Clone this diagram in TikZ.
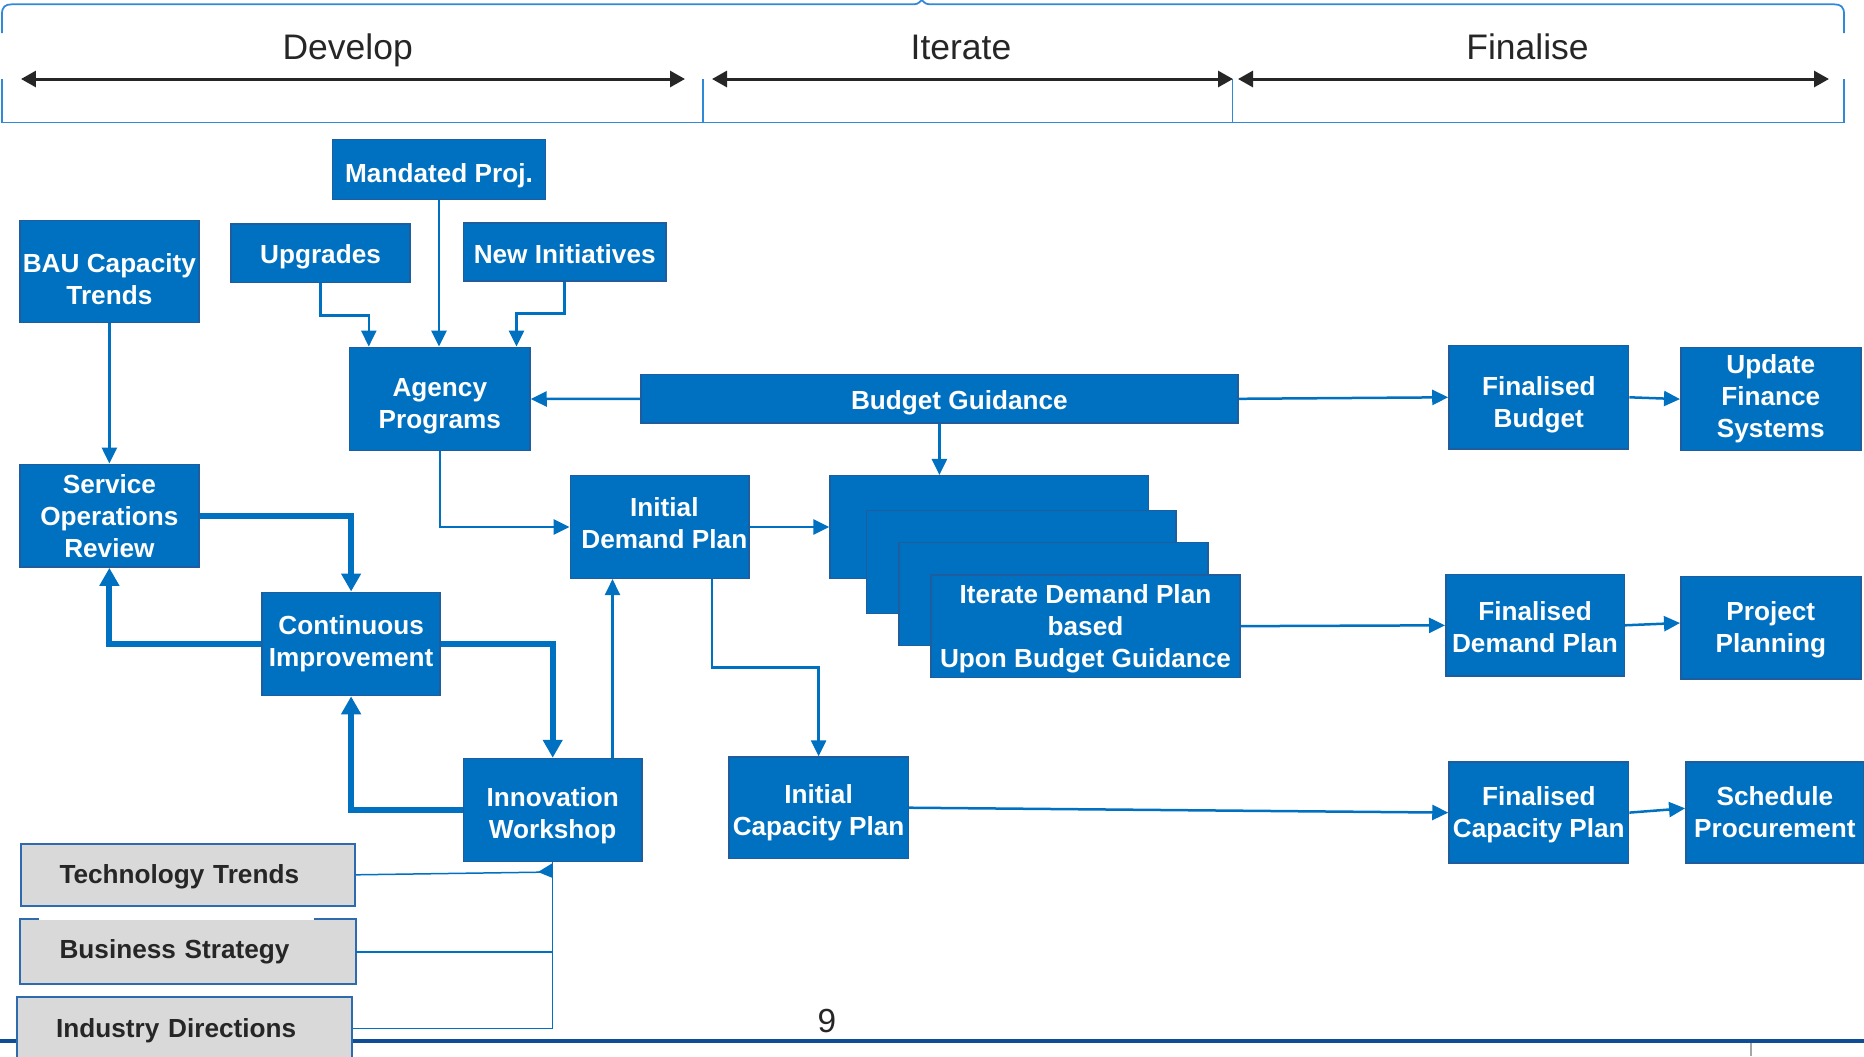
\documentclass[tikz,border=0pt]{standalone}
\usepackage{fontspec}
\setmainfont{Liberation Sans}
\usetikzlibrary{arrows.meta,calc}

\definecolor{boxblue}{HTML}{0070C0}
\definecolor{boxedge}{HTML}{1F5E9E}
\definecolor{greyfill}{HTML}{D9D9D9}
\definecolor{greyedge}{HTML}{2E6BAE}
\definecolor{inkdark}{HTML}{262626}
\definecolor{frameblue}{HTML}{3089D8}
\definecolor{rulenavy}{HTML}{0E4C96}

\newcommand\boxfont{\bfseries\fontsize{14.9}{18.2}\selectfont}
\newcommand\phasefont{\fontsize{20.2}{24}\selectfont}
\newcommand\pagefont{\fontsize{19}{23}\selectfont}
% invisible struts that nudge a box label down (dropby) or up (liftby), in pt
\newcommand\dropby[1]{\rule{0pt}{\dimexpr 10.8pt+#1pt*2\relax}}
\newcommand\liftby[1]{\rule[\dimexpr -#1pt*2\relax]{0pt}{0pt}}

\begin{document}
\begin{tikzpicture}[x=0.02cm,y=-0.02cm,
  bx/.style 2 args={minimum width=#1*0.02cm, minimum height=#2*0.02cm},
  blue box/.style={draw=boxedge, line width=0.03cm, fill=boxblue, text=white,
    font=\boxfont, align=center, inner sep=0pt},
  grey box/.style={draw=greyedge, line width=0.04cm, fill=greyfill, text=inkdark,
    font=\boxfont, align=left, inner xsep=39*0.02cm, inner ysep=0pt,
    text width=256.5*0.02cm},
  link/.style={draw=boxblue, line width=0.05cm, -{Triangle[length=0.32cm,width=0.3cm]}},
  heavy link/.style={draw=boxblue, line width=0.12cm, -{Triangle[length=0.36cm,width=0.38cm]}},
  feed/.style={draw=boxblue, line width=0.03cm},
  span/.style={draw=inkdark, line width=0.06cm,
    {Triangle[length=0.3cm,width=0.32cm]}-{Triangle[length=0.3cm,width=0.32cm]}},
  frame/.style={draw=frameblue, line width=0.035cm},
  phase/.style={font=\phasefont, text=inkdark, anchor=base, inner sep=0pt},
]
\useasboundingbox (0,0) rectangle (1864,1056);
\clip (0,0) rectangle (1864,1056);

% phase header: brace on top, open frame below
\draw[frame] (2,33) -- (2,14) .. controls (2,7) and (5,4.3) .. (12,4.3)
  -- (914,4.3) .. controls (919,4.3) and (920.5,0.4) .. (921.7,0.4)
  .. controls (923,0.4) and (924.5,4.3) .. (929.5,4.3)
  -- (1834,4.3) .. controls (1841,4.3) and (1844,7) .. (1844,14) -- (1844,33);
\draw[frame] (2,79) -- (2,122.5) -- (1844,122.5) -- (1844,79);
\draw[frame] (703.2,79) -- (703.2,122.5);
\draw[frame] (1232.5,79) -- (1232.5,122.5);

\coordinate (devL) at (21,79);   \coordinate (devR) at (685,79);
\coordinate (itL)  at (712,79);  \coordinate (itR)  at (1233,79);
\coordinate (finL) at (1238,79); \coordinate (finR) at (1829,79);
\draw[span] (devL) -- (devR);
\draw[span] (itL) -- (itR);
\draw[span] (finL) -- (finR);

\node[phase] (develop)  at (347.7,59.6)  {Develop};
\node[phase] (iterate)  at (961,59.6)    {Iterate};
\node[phase] (finalise) at (1527.5,59.6) {Finalise};

% footer rule and page number
\draw[rulenavy, line width=0.08cm] (0,1040.5) -- (1864,1040.5);
\draw[gray!70, line width=0.025cm] (1751,1043) -- (1751,1056);
\node[anchor=base, font=\pagefont, text=inkdark, inner sep=0pt] (pageno) at (827,1032) {9};

% process boxes
\node[blue box, bx={213}{60}]      (mand)   at (439,169.3)   {\dropby{3.4}Mandated Proj.};
\node[blue box, bx={178.7}{102}]   (bau)    at (109.4,271.7) {\dropby{4}BAU Capacity\\Trends};
\node[blue box, bx={179}{58.7}]    (upg)    at (320.5,253.3) {\dropby{2}Upgrades};
\node[blue box, bx={202.6}{58.3}]  (newi)   at (564.7,251.9) {\dropby{1.3}New Initiatives};
\node[blue box, bx={180.4}{103.4}] (agency) at (439.8,399)   {\dropby{4}Agency\\Programs};
\node[blue box, bx={597.3}{48.5}]  (budget) at (939.4,398.8) {\hspace*{0.8cm}\dropby{2}Budget Guidance};
\node[blue box, bx={178.7}{102.8}] (sor)    at (109.4,515.7) {Service\\Operations\\Review};
\node[blue box, bx={178.2}{103.3}] (cip)    at (351.1,643.9) {Continuous\\Improvement};
\node[blue box, bx={178.6}{103.2}] (iw)     at (552.7,810.1) {\dropby{3.4}Innovation\\Workshop};
\node[blue box, bx={178.5}{102.6}] (idp)    at (659.6,527)
  {\hspace*{0.19cm}Initial\\\hspace*{0.19cm}Demand Plan\liftby{2}};

% stacked iteration sheets
\node[blue box, bx={318.3}{102.6}] (sa) at (989.25,527)  {};
\node[blue box, bx={309.3}{102.6}] (sb) at (1021.35,562) {};
\node[blue box, bx={309.4}{102.6}] (sc) at (1053.5,594)  {};
\node[blue box, bx={309}{102.3}]   (sd) at (1085.5,626.15)
  {\dropby{1.3}Iterate Demand Plan\\based\\Upon Budget Guidance};

\node[blue box, bx={179.6}{101.3}] (icp) at (818.6,807.7)  {\dropby{2.7}Initial\\Capacity Plan};
\node[blue box, bx={179.7}{103.2}] (fb)  at (1538.8,397.3) {\dropby{4}Finalised\\Budget};
\node[blue box, bx={180.1}{103.2}] (ufs) at (1770.8,399.1) {Update\\Finance\\Systems};
\node[blue box, bx={178.5}{101.4}] (fdp) at (1535,625.3)   {\dropby{1.3}Finalised\\Demand Plan};
\node[blue box, bx={180.1}{102.6}] (pp)  at (1770.8,627.7) {\dropby{1.3}Project\\Planning};
\node[blue box, bx={179.6}{101.2}] (fcp) at (1538.8,812.6) {\dropby{1.3}Finalised\\Capacity Plan};
\node[blue box, bx={178.2}{101.2}] (sp)  at (1774.9,812.6) {Schedule\\Procurement};

% external inputs
\node[grey box, bx={334.5}{62.5}] (tt)  at (187.8,874.8)  {\dropby{1.3}Technology Trends};
\node[grey box, bx={334.5}{63}, draw=none] (bs) at (187.8,951.9) {Business Strategy};
\draw[draw=greyedge, line width=0.04cm]
  ($(bs.north west)+(19.5,0)$) -- (bs.north west) -- (bs.south west)
  -- (bs.south east) -- (bs.north east) -- ++(-42.5,0);
\node[grey box, bx={334.8}{63}] (ind) at (184.4,1028.5) {\dropby{1.3}Industry Directions};

% planning flow
\draw[link] (mand.south) -- (mand.south |- agency.north);
\draw[link] (upg.south) |- (368.8,315.7) -- (368.8,0 |- agency.north);
\draw[link] (newi.south) |- (516.5,313.3) -- (516.5,0 |- agency.north);
\draw[link] (bau.south) -- (sor.north);
\draw[link] (budget.west) -- (agency.east);
\draw[link] (budget.east) -- (fb.west);
\draw[link] (fb.east) -- (ufs.west);
\draw[link] (budget.south) -- (budget.south |- sa.north);
\draw[link] (agency.south) |- (idp.west);
\draw[link] (idp.east) -- (sa.west);
\draw[link] (711.8,0 |- idp.south) |- (818.6,667.3) -- (icp.north);
\draw[link] (612.5,0 |- iw.north) -- (612.5,0 |- idp.south);
\draw[link] (sd.east) -- (fdp.west);
\draw[link] (fdp.east) -- (pp.west |- 0,623);
\draw[link] (icp.east) -- (fcp.west);
\draw[link] (fcp.east) -- (sp.west |- 0,808.3);

% improvement loop
\draw[heavy link] (sor.east) -| (cip.north);
\draw[heavy link] (cip.west) -| (sor.south);
\draw[heavy link] (cip.east) -| (iw.north);
\draw[heavy link] (iw.west) -| (cip.south);

% inputs into the workshop
\draw[feed] (tt.east) -- (iw.south |- 0,872);
\draw[feed] (bs.east) -- (bs.east -| iw.south);
\draw[feed] (ind.east) -| (iw.south);
\fill[boxblue] (iw.south |- 0,863) -- (iw.south |- 0,878) -- (538,872) -- cycle;
\end{tikzpicture}
\end{document}
